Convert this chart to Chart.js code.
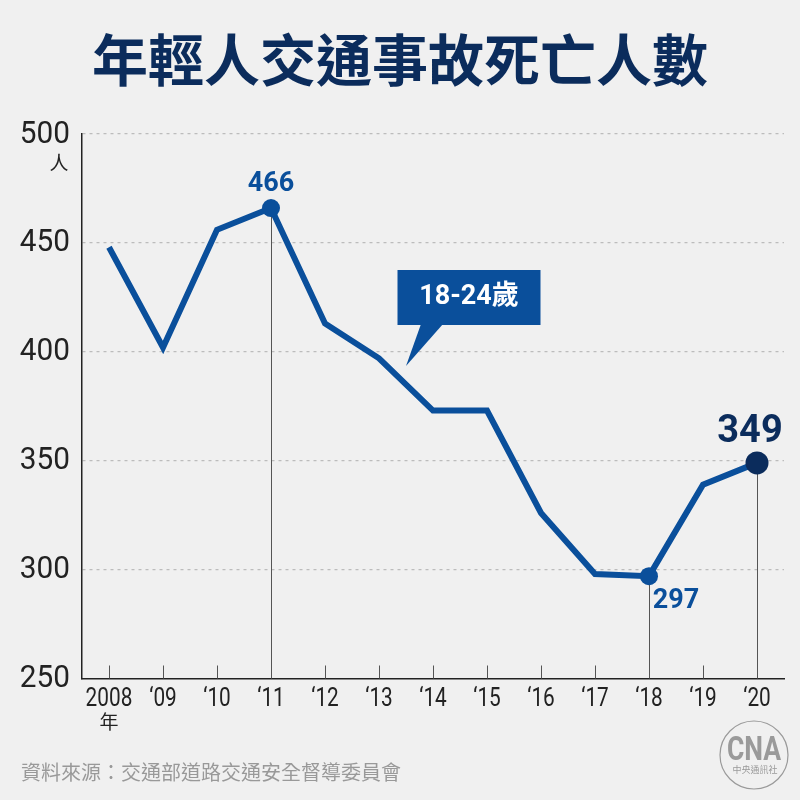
<!DOCTYPE html>
<html lang="zh-Hant">
<head>
<meta charset="utf-8">
<title>年輕人交通事故死亡人數</title>
<script src="https://cdn.jsdelivr.net/npm/chart.js@4"></script>
<style>
  html, body { margin: 0; background: #f0f0f0; }
  canvas { display: block; }
</style>
</head>
<body>
<canvas id="myChart" width="800" height="800"></canvas>
<script>
// Data
const years = ['2008', '‘09', '‘10', '‘11', '‘12', '‘13', '‘14', '‘15', '‘16', '‘17', '‘18', '‘19', '‘20'];
const deaths = [448, 402, 456, 466, 413, 397, 373, 373, 326, 298, 297, 339, 349];
const yTicks = [250, 300, 350, 400, 450, 500];
const markedYears = ['‘11', '‘18', '‘20'];
const seriesName = '18-24歲';

const BLUE = '#0a4f9b';
const NAVY = '#0b2c5c';
const INK = '#222';
const GREY = '#9a9a9a';
const CJK = '"Noto Sans CJK TC", sans-serif';

function isMarked(i) {
    return markedYears.includes(years[i]);
}

// squeeze = horizontal scale, the original digits are a narrow DIN style face
function drawText(ctx, text, x, y, font, color, align, squeeze) {
    ctx.save();
    ctx.translate(x, y);
    ctx.scale(squeeze || 1, 1);
    ctx.font = font;
    ctx.fillStyle = color;
    ctx.textAlign = align || 'center';
    ctx.textBaseline = 'middle';
    ctx.fillText(text, 0, 0);
    ctx.restore();
}

// Tick marks inside the plot and the drop lines under the marked points
const dropLines = {
    id: 'dropLines',
    beforeDatasetsDraw(chart) {
        const { ctx, scales: { x, y } } = chart;
        ctx.save();
        ctx.strokeStyle = '#555';
        ctx.lineWidth = 1;
        years.forEach((year, i) => {
            const px = Math.round(x.getPixelForValue(i)) + 0.5;
            const top = isMarked(i) ? y.getPixelForValue(deaths[i]) : y.bottom - 13;
            ctx.beginPath();
            ctx.moveTo(px, top);
            ctx.lineTo(px, y.bottom);
            ctx.stroke();
        });
        ctx.restore();
    }
};

// Axis labels, value labels, callout, units, source and logo
const notes = {
    id: 'notes',
    afterDatasetsDraw(chart) {
        const { ctx, scales: { x, y } } = chart;
        ctx.save();

        yTicks.forEach((value) => {
            drawText(ctx, value, 70, y.getPixelForValue(value) + 0.5, '32px Roboto', INK, 'right', 0.93);
        });
        years.forEach((year, i) => {
            drawText(ctx, year, x.getPixelForValue(i), y.bottom + 21, '26px Roboto', INK, 'center', 0.8);
        });

        const at = (year) => {
            const i = years.indexOf(year);
            return { px: x.getPixelForValue(i), py: y.getPixelForValue(deaths[i]), value: deaths[i] };
        };
        const p11 = at('‘11');
        const p18 = at('‘18');
        const p20 = at('‘20');
        drawText(ctx, p11.value, p11.px, p11.py - 24, 'bold 27px Roboto', BLUE);
        drawText(ctx, p18.value, p18.px + 27, p18.py + 25, 'bold 27px Roboto', BLUE);
        drawText(ctx, p20.value, p20.px - 7, p20.py - 30, 'bold 38px Roboto', NAVY);

        // callout
        ctx.fillStyle = BLUE;
        ctx.fillRect(397.5, 270, 143, 55);
        ctx.beginPath();
        ctx.moveTo(421, 324);
        ctx.lineTo(443, 324);
        ctx.lineTo(406, 366);
        ctx.closePath();
        ctx.fill();
        drawText(ctx, seriesName, 469, 297, 'bold 27px Roboto, ' + CJK, '#fff');

        // units
        drawText(ctx, '人', 59, 163, '19px ' + CJK, INK);
        drawText(ctx, '年', 109, 722, '19px ' + CJK, INK);

        // source
        drawText(ctx, '資料來源：交通部道路交通安全督導委員會', 21, 772, '20px ' + CJK, '#999', 'left');

        // logo
        ctx.strokeStyle = GREY;
        ctx.lineWidth = 1.2;
        ctx.beginPath();
        ctx.arc(754, 755, 34, 0, Math.PI * 2);
        ctx.stroke();
        drawText(ctx, 'CNA', 754, 751, 'bold 34px Roboto', GREY, 'center', 0.78);
        drawText(ctx, '中央通訊社', 755, 770, '9px ' + CJK, GREY);
        ctx.restore();
    }
};

document.addEventListener('DOMContentLoaded', function () {
    const ctx = document.getElementById('myChart').getContext('2d');
    new Chart(ctx, {
        type: 'line',
        data: {
            labels: years,
            datasets: [{
                label: seriesName,
                data: deaths,
                borderColor: BLUE,
                borderWidth: 6,
                borderCapStyle: 'butt',
                borderJoinStyle: 'miter',
                tension: 0,
                pointRadius: (c) => (isMarked(c.dataIndex) ? (years[c.dataIndex] === '‘20' ? 11.5 : 9) : 0),
                pointBackgroundColor: (c) => (years[c.dataIndex] === '‘20' ? NAVY : BLUE),
                pointBorderWidth: 0
            }]
        },
        options: {
            responsive: false,
            animation: false,
            layout: { padding: { left: 16, right: 16, top: 0, bottom: 0 } },
            plugins: {
                legend: { display: false },
                tooltip: { enabled: false },
                title: {
                    display: true,
                    text: '年輕人交通事故死亡人數',
                    color: NAVY,
                    font: { family: CJK, size: 56, weight: 'bold', lineHeight: 1 },
                    padding: { top: 32, bottom: 46 }
                }
            },
            scales: {
                x: {
                    offset: true,
                    afterFit(scale) { scale.height = 121.5; },
                    grid: { display: false },
                    border: { color: INK, width: 1.5 },
                    ticks: { display: false }
                },
                y: {
                    min: 250,
                    max: 500,
                    afterFit(scale) { scale.width = 66; },
                    afterBuildTicks(scale) { scale.ticks = yTicks.map((value) => ({ value })); },
                    grid: {
                        drawTicks: false,
                        color: (c) => (c.tick.value === 250 ? 'transparent' : '#bcbcbc'),
                        lineWidth: 1.2
                    },
                    border: { color: INK, width: 1.5, dash: [3, 4] },
                    ticks: { display: false }
                }
            }
        },
        plugins: [dropLines, notes]
    });
});
</script>
</body>
</html>
